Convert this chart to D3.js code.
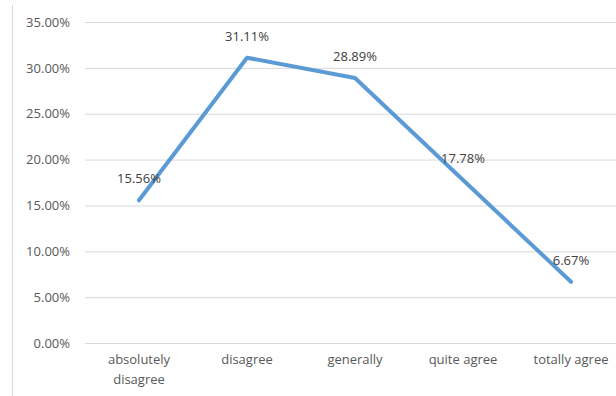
<!DOCTYPE html>
<html><head><meta charset="utf-8">
<script src="https://cdn.jsdelivr.net/npm/d3@7/dist/d3.min.js"></script>
<style>body{margin:0;background:#fff;} svg{display:block;}</style>
</head><body>
<svg id="c" width="616" height="396"></svg>
<script>
const categories = ["absolutely disagree", "disagree", "generally", "quite agree", "totally agree"];
const categoryLines = [["absolutely", "disagree"], ["disagree"], ["generally"], ["quite agree"], ["totally agree"]];
const values = [15.56, 31.11, 28.89, 17.78, 6.67];
const yTicks = [0, 5, 10, 15, 20, 25, 30, 35];

const svg = d3.select("#c");
const font = "'Open Sans', sans-serif";
const textColor = "#595959";
const x = d3.scaleBand().domain(categories).range([85, 625]).padding(0);
const y = d3.scaleLinear().domain([0, 35]).range([343, 22]);
const cx = c => x(c) + x.bandwidth() / 2;

// left border line
svg.append("line").attr("x1", 12.5).attr("x2", 12.5).attr("y1", 5).attr("y2", 396)
  .attr("stroke", "#d9d9d9").attr("stroke-width", 1);

// gridlines + y axis
const yAxis = d3.axisLeft(y).tickValues(yTicks).tickSize(-(616 - 85)).tickPadding(15)
  .tickFormat(d => d.toFixed(2) + "%");
const gy = svg.append("g").attr("transform", "translate(85,0)").call(yAxis);
gy.select(".domain").remove();
gy.selectAll(".tick line").attr("stroke", "#d9d9d9").attr("stroke-width", 1);
gy.selectAll(".tick text").attr("fill", textColor).style("font-family", font).style("font-size", "13px");

// x axis labels
const xAxis = d3.axisBottom(x).tickSize(0).tickFormat("");
const gx = svg.append("g").attr("transform", "translate(0,343)").call(xAxis);
gx.select(".domain").remove();
gx.selectAll(".tick").each(function(d, i) {
  const t = d3.select(this).append("text").attr("fill", textColor)
    .attr("text-anchor", "middle").style("font-family", font).style("font-size", "13px");
  categoryLines[i].forEach((ln, j) => {
    t.append("tspan").attr("x", 0).attr("y", 21 + j * 20).text(ln);
  });
});

// line
const line = d3.line().x((d, i) => cx(categories[i])).y(d => y(d));
svg.append("path").datum(values).attr("d", line).attr("fill", "none")
  .attr("stroke", "#5b9bd5").attr("stroke-width", 4).attr("stroke-linejoin", "round").attr("stroke-linecap", "round");

// data labels
svg.append("g").selectAll("text").data(values).join("text")
  .attr("x", (d, i) => cx(categories[i])).attr("y", d => y(d) - 17)
  .attr("text-anchor", "middle").attr("fill", "#404040")
  .style("font-family", font).style("font-size", "13px")
  .text(d => d.toFixed(2) + "%");
</script>
</body></html>
